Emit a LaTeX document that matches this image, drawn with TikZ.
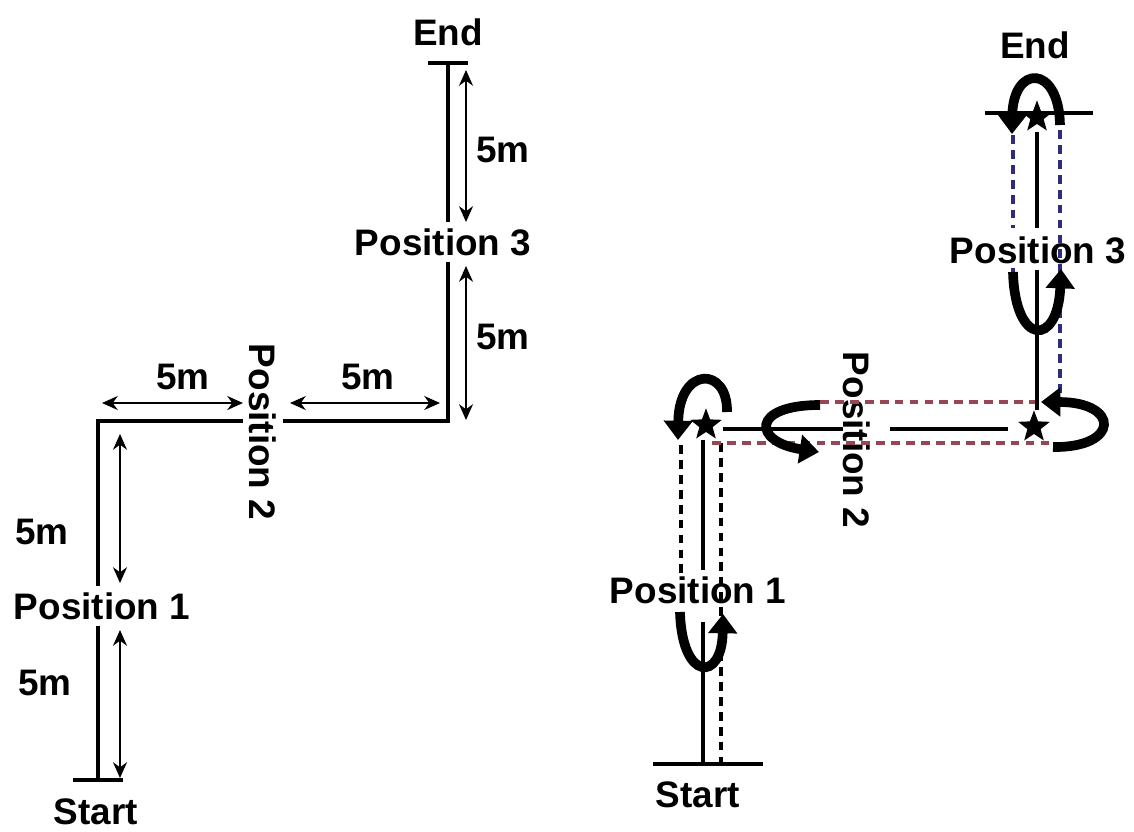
\documentclass[tikz,border=0pt]{standalone}
\usepackage{fontspec}
\setmainfont{Liberation Sans}
\usetikzlibrary{arrows.meta,calc,shapes.geometric}
\definecolor{guidered}{RGB}{150,70,85}
\definecolor{guideblue}{RGB}{45,45,120}
\tikzset{
  lbl/.style   = {font=\fontsize{21}{25}\selectfont\bfseries, inner sep=3.5pt},
  track/.style = {line width=2.2pt},
  dim/.style   = {{Stealth[length=9pt,width=8pt]}-{Stealth[length=9pt,width=8pt]}, line width=0.9pt},
  turn/.style  = {-{Triangle[length=11pt,width=16pt]}, line width=5.5pt},
  guide/.style = {line width=2.2pt, dash pattern=on 5pt off 3.5pt},
  starmark/.style = {star, star points=5, star point ratio=2.4, fill=black, inner sep=0pt, minimum size=19pt},
}

\begin{document}
\begin{tikzpicture}[x=0.02cm,y=-0.02cm]
  \useasboundingbox (0,0) rectangle (1134,832);

  % left: the course with distances
  \coordinate (lS) at (98,780);
  \coordinate (lC1) at (98,421);
  \coordinate (lC2) at (448,421);
  \coordinate (lE) at (448,63);
  \node[lbl] (lstart) at (96,812) {Start};
  \node[lbl] (lend) at (448,32) {End};
  \node[lbl] (lp1) at (102,606) {Position 1};
  \node[lbl, rotate=-90] (lp2) at (263,432) {Position 2};
  \node[lbl] (lp3) at (443,242) {Position 3};

  \draw[track] ($(lS)+(-25,0)$) -- ($(lS)+(25,0)$);
  \draw[track] ($(lE)+(-20,0)$) -- ($(lE)+(20,0)$);
  \draw[track] (lS) -- (lS |- lp1.south);
  \draw[track] (lp1.north -| lS) -- (lC1) -- (lC1 -| lp2.south);
  \draw[track] (lp2.north |- lC1) -- (lC2) -- (lC2 |- lp3.south);
  \draw[track] (lp3.north -| lE) -- (lE);

  \draw[dim] (120,434) -- (120,583);
  \draw[dim] (120,630) -- (120,778);
  \draw[dim] (102,403) -- (243,403);
  \draw[dim] (290,403) -- (440,403);
  \draw[dim] (466,70) -- (466,222);
  \draw[dim] (466,266) -- (466,420);

  \node[lbl] (m1) at (42,532) {5m};
  \node[lbl] (m2) at (45,683) {5m};
  \node[lbl] (m3) at (183,377) {5m};
  \node[lbl] (m4) at (368,377) {5m};
  \node[lbl] (m5) at (503,150) {5m};
  \node[lbl] (m6) at (503,337) {5m};

  % right: the course with turns
  \coordinate (rS) at (703,764);
  \coordinate (rE) at (1037,113);
  \node[lbl] (rstart) at (698,795) {Start};
  \node[lbl] (rend) at (1035,45) {End};
  \node[lbl] (rp1) at (698,590) {Position 1};
  \node[lbl, rotate=-90] (rp2) at (857,440) {Position 2};
  \node[lbl] (rp3) at (1038,250) {Position 3};
  \node[starmark] (s1) at (706,425) {};
  \node[starmark] (s2) at (1034,427) {};
  \node[starmark] (s3) at (1037,117) {};

  \draw[guide] (681,445) -- (681,578);
  \draw[guide] (721,443) -- (721,764);
  \draw[guide, guidered] (820,402) -- (1038,402);
  \draw[guide, guidered] (712,443) -- (1050,443);
  \draw[guide, guideblue] (1013,135) -- (1013,228);
  \draw[guide, guideblue] (1013,268) -- (1013,282);
  \draw[guide, guideblue] (1060,130) -- (1060,395);

  \draw[track] ($(rS)+(-50,0)$) -- ($(rS)+(60,0)$);
  \draw[track] ($(rE)+(-52,0)$) -- ($(rE)+(56,0)$);
  \draw[track] (rS) -- (703,622);
  \draw[track] (rp1.north -| rS) -- (703,440);
  \draw[track] (723,429) -- (843,429);
  \draw[track] (890,429) -- (1008,429);
  \draw[track] (1037,410) -- (1037,270);
  \draw[track] (1037,228) -- (1037,132);

  \draw[turn] (727,412) .. controls (728,366) and (679,366) .. (678,440);
  \draw[turn] (680,612) .. controls (682,682) and (722,682) .. (723,614);
  \draw[turn] (820,405) .. controls (750,405) and (753,442) .. (819,452);
  \draw[turn] (1053,447) .. controls (1120,448) and (1120,402) .. (1041,402);
  \draw[turn] (1013,272) .. controls (1015,347) and (1058,347) .. (1061,269);
  \draw[turn] (1060,125) .. controls (1059,64) and (1013,64) .. (1012,134);
\end{tikzpicture}
\end{document}
